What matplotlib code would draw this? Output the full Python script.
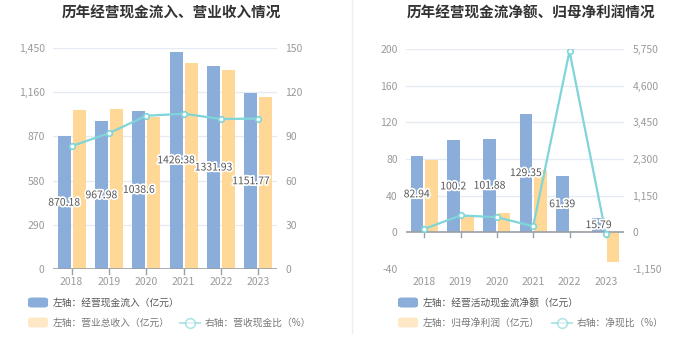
import matplotlib
matplotlib.use("Agg")
import matplotlib.pyplot as plt
import matplotlib.patheffects as pe
from matplotlib.patches import FancyBboxPatch
from matplotlib.lines import Line2D
import numpy as np

plt.rcParams['font.family'] = ['Noto Sans CJK SC', 'DejaVu Sans']

years = ['2018', '2019', '2020', '2021', '2022', '2023']

# Left chart
cash_inflow = [870.18, 967.98, 1038.6, 1426.38, 1331.93, 1151.77]
revenue = [1043, 1050, 998, 1353, 1308, 1128]
cash_rev_ratio = [83.4, 92.2, 104.0, 105.4, 101.8, 102.1]
left_yticks = [0, 290, 580, 870, 1160, 1450]
left_rticks = [0, 30, 60, 90, 120, 150]

# Right chart
net_cash = [82.94, 100.2, 101.88, 129.35, 61.39, 15.79]
net_profit = [79.0, 18.9, 21.4, 68.0, 1.08, -32.7]
net_cash_ratio = [105, 530, 476, 190, 5684, -48]
right_yticks = [-40, 0, 40, 80, 120, 160, 200]
right_rticks = [-1150, 0, 1150, 2300, 3450, 4600, 5750]

BLUE = '#8badda'
ORANGE = '#ffd796'
CYAN = '#7fd5d8'
GRID = '#e6ebf3'
TICK = '#9a9a9a'
TXT = '#555555'

W, H = 700, 360
fig = plt.figure(figsize=(7, 3.6), dpi=100)
fig.patch.set_facecolor('white')

def ax_rect(x0, x1, ytop, ybot):
    return [x0 / W, (H - ybot) / H, (x1 - x0) / W, (ybot - ytop) / H]

def fmt(v):
    return f'{v:,.0f}'

def make_panel(rect, bars1, bars2, ratio, lticks, rticks, title, title_x):
    ax = fig.add_axes(rect)
    x = np.arange(len(years))
    bw = 0.35
    ax.bar(x - bw / 2 - 0.025, bars1, width=bw, color=BLUE, zorder=2)
    ax.bar(x + bw / 2 + 0.025, bars2, width=bw, color=ORANGE, zorder=2)
    ax.set_xlim(-0.5, len(years) - 0.5)
    ax.set_ylim(lticks[0], lticks[-1])
    ax.set_yticks(lticks)
    ax.set_yticklabels([fmt(v) for v in lticks])
    ax.set_xticks(x)
    ax.set_xticklabels(years)
    for v in lticks:
        if v != 0:
            ax.axhline(v, color=GRID, lw=1, zorder=0)
    ax.axhline(0, color='#9aa0a8', lw=1.2, zorder=3)
    for s in ax.spines.values():
        s.set_visible(False)
    ax.tick_params(axis='y', length=0, colors=TICK, labelsize=7.5, pad=6)
    ax.tick_params(axis='x', length=0, colors=TICK, labelsize=7.5, pad=6)
    for xi in x:
        ax.plot([xi, xi], [0, -(lticks[-1] - lticks[0]) * 0.022], color='#9aa0a8', lw=1,
                zorder=3, clip_on=False)
    ax2 = ax.twinx()
    ax2.set_ylim(rticks[0], rticks[-1])
    ax2.set_yticks(rticks)
    ax2.set_yticklabels([fmt(v) for v in rticks])
    for s in ax2.spines.values():
        s.set_visible(False)
    ax2.tick_params(axis='y', length=0, colors=TICK, labelsize=7.5, pad=6)
    ax2.plot(x, ratio, color=CYAN, lw=1.6, marker='o', markersize=4,
             markerfacecolor='white', markeredgecolor=CYAN, markeredgewidth=1.2, zorder=5)
    # data labels on top of everything
    for xi, v in zip(x, bars1):
        ax2.text(xi - bw / 2 - 0.025, v / 2, f'{v:g}', ha='center', va='center', fontsize=7.5,
                 color=TXT, zorder=6, transform=ax.transData,
                 path_effects=[pe.withStroke(linewidth=2.5, foreground='white')])
    fig.text(title_x / W, 1 - 13 / H, title, ha='center', va='center', fontsize=10.5,
             fontweight='bold', color='#333333')
    return ax, ax2

make_panel(ax_rect(53, 277, 48, 269), cash_inflow, revenue, cash_rev_ratio,
           left_yticks, left_rticks, '历年经营现金流入、营业收入情况', 171)
make_panel(ax_rect(406, 624, 49, 269), net_cash, net_profit, net_cash_ratio,
           right_yticks, right_rticks, '历年经营现金流净额、归母净利润情况', 531)

# divider
fig.add_artist(Line2D([352 / W, 352 / W], [1 - 333 / H, 1.0], color='#efefef', lw=1))

def legend_patch(x0, yc, color, label, tcolor):
    p = FancyBboxPatch((x0 / W, (H - yc - 5) / H), 20 / W, 10 / H,
                       boxstyle='round,pad=0,rounding_size=0.006', transform=fig.transFigure,
                       facecolor=color, edgecolor='none')
    fig.add_artist(p)
    fig.text((x0 + 25) / W, (H - yc) / H, label, ha='left', va='center', fontsize=7, color=tcolor)

def legend_line(x0, yc, label, tcolor):
    fig.add_artist(Line2D([x0 / W, (x0 + 20) / W], [(H - yc) / H] * 2, color=CYAN, lw=1.4, alpha=0.6))
    fig.add_artist(Line2D([(x0 + 10) / W], [(H - yc) / H], marker='o', markersize=7,
                          markerfacecolor='white', markeredgecolor=CYAN, markeredgewidth=1.2,
                          alpha=0.6))
    fig.text((x0 + 25) / W, (H - yc) / H, label, ha='left', va='center', fontsize=7, color=tcolor)

legend_patch(28, 302.5, BLUE, '左轴：经营现金流入（亿元）', '#555555')
legend_patch(28, 322.5, '#ffe8c6', '左轴：营业总收入（亿元）', '#777777')
legend_line(180, 322.5, '右轴：营收现金比（%）', '#777777')

legend_patch(398, 302.5, BLUE, '左轴：经营活动现金流净额（亿元）', '#555555')
legend_patch(398, 322.5, '#ffe8c6', '左轴：归母净利润（亿元）', '#777777')
legend_line(552, 322.5, '右轴：净现比（%）', '#777777')

fig.savefig('out.png', dpi=100, facecolor='white')
